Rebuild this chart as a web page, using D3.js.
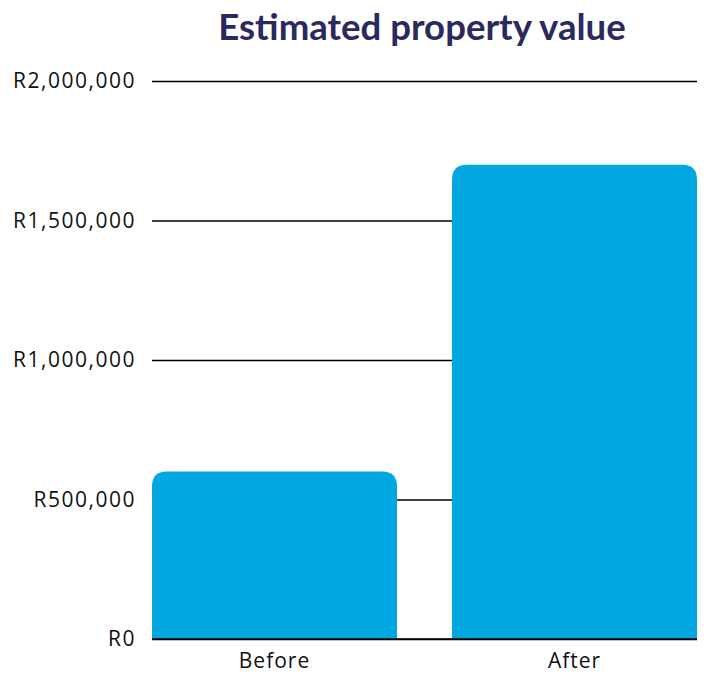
<!DOCTYPE html>
<html><head><meta charset="utf-8">
<script src="https://cdn.jsdelivr.net/npm/d3@7"></script>
<style>body{margin:0;background:#fff}</style>
</head><body>
<svg id="c" width="707" height="675"></svg>
<script>
const categories = ["Before", "After"];
const values = [600000, 1700000];
const tickValues = [0, 500000, 1000000, 1500000, 2000000];
const tickLabels = ["R0", "R500,000", "R1,000,000", "R1,500,000", "R2,000,000"];
const title = "Estimated property value";

const svg = d3.select("#c");
const margin = {left: 152, right: 10, top: 81, bottom: 36};
const W = 707, H = 675;
const x = d3.scaleBand().domain(categories).range([margin.left, W - margin.right]).paddingInner(0.1833).paddingOuter(0);
const y = d3.scaleLinear().domain([0, 2000000]).range([H - margin.bottom, margin.top]);

svg.append("text").attr("x", 422).attr("y", 40).attr("text-anchor", "middle")
  .attr("font-family", "Lato").attr("font-weight", 700).attr("font-size", 36.6)
  .attr("fill", "#2b295e").text(title);

const yAxis = d3.axisLeft(y).tickValues(tickValues).tickFormat((d, i) => tickLabels[i])
  .tickSize(-(W - margin.right - margin.left)).tickPadding(16);
const gy = svg.append("g").attr("transform", `translate(${margin.left},0)`).call(yAxis);
gy.select(".domain").remove();
gy.selectAll(".tick line").attr("stroke", "#000").attr("stroke-width", 1.5);
gy.selectAll(".tick text").attr("font-family", "Open Sans").attr("font-size", 21)
  .attr("letter-spacing", 1.5).attr("fill", "#111");

const r = 15;
svg.append("g").selectAll("path").data(categories).join("path")
  .attr("fill", "#02a6e1")
  .attr("d", (c, i) => {
    const x0 = x(c), x1 = x(c) + x.bandwidth(), yt = y(values[i]), yb = y(0);
    return `M${x0},${yb}V${yt + r}Q${x0},${yt} ${x0 + r},${yt}H${x1 - r}Q${x1},${yt} ${x1},${yt + r}V${yb}Z`;
  });

svg.append("line").attr("x1", margin.left).attr("x2", W - margin.right)
  .attr("y1", y(0)).attr("y2", y(0)).attr("stroke", "#000").attr("stroke-width", 1.5);

const xAxis = d3.axisBottom(x).tickSize(0).tickPadding(14);
const gx = svg.append("g").attr("transform", `translate(0,${y(0)})`).call(xAxis);
gx.select(".domain").remove();
gx.selectAll(".tick text").attr("font-family", "Open Sans").attr("font-size", 21)
  .attr("letter-spacing", 1).attr("fill", "#111");
</script>
</body></html>
